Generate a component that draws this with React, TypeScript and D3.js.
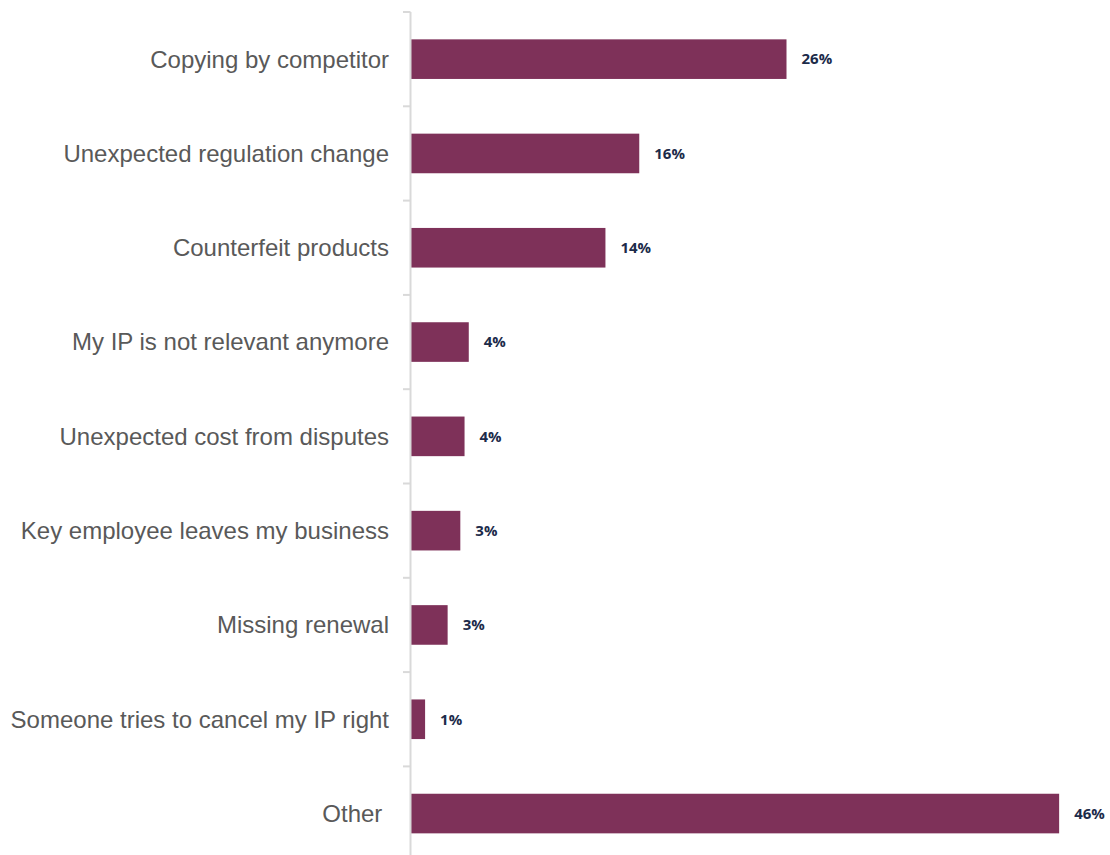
import React from "react";
import * as d3 from "d3";

const categories = [
  "Copying by competitor",
  "Unexpected regulation change",
  "Counterfeit products",
  "My IP is not relevant anymore",
  "Unexpected cost from disputes",
  "Key employee leaves my business",
  "Missing renewal",
  "Someone tries to cancel my IP right",
  "Other ",
];
const values = [26.65, 16.2, 13.8, 4.1, 3.8, 3.5, 2.6, 1.0, 46.0];
const valueLabels = ["26%", "16%", "14%", "4%", "4%", "3%", "3%", "1%", "46%"];

const W = 1110;
const H = 855;
const axisX = 410.5;

export default function App() {
  const y = d3
    .scaleBand<string>()
    .domain(categories)
    .range([12, 12 + 94.3 * categories.length])
    .paddingInner(0.58)
    .paddingOuter(0.29);
  const x = d3.scaleLinear().domain([0, 50]).range([411, 1115.5]);
  const step = y.step();
  const ticks = d3.range(categories.length).map((i) => 12 + i * step);

  return (
    <svg
      width={W}
      height={H}
      style={{ position: "absolute", left: 0, top: 0, background: "#fff" }}
    >
      {categories.map((c, i) => (
        <rect
          key={c}
          x={x(0)}
          y={y(c)}
          width={x(values[i]) - x(0)}
          height={y.bandwidth()}
          fill="#7e3159"
        />
      ))}
      <line x1={axisX} x2={axisX} y1={12} y2={H} stroke="#d9d9d9" strokeWidth={2} />
      {ticks.map((t, i) => (
        <line key={i} x1={403} x2={axisX} y1={t} y2={t} stroke="#d9d9d9" strokeWidth={2} />
      ))}
      {categories.map((c) => (
        <text
          key={c}
          x={389}
          y={(y(c) ?? 0) + y.bandwidth() / 2}
          dy="0.35em"
          textAnchor="end"
          fill="#595959"
          style={{ whiteSpace: "pre", fontFamily: "Liberation Sans, Arial, sans-serif", fontSize: "24px" }}
        >
          {c}
        </text>
      ))}
      {categories.map((c, i) => (
        <text
          key={c}
          x={x(values[i]) + 15}
          y={(y(c) ?? 0) + y.bandwidth() / 2}
          dy="0.35em"
          fill="#1c2b4a"
          style={{ fontFamily: "Open Sans, Noto Sans, sans-serif", fontWeight: 700, fontSize: "15px" }}
        >
          {valueLabels[i]}
        </text>
      ))}
    </svg>
  );
}
